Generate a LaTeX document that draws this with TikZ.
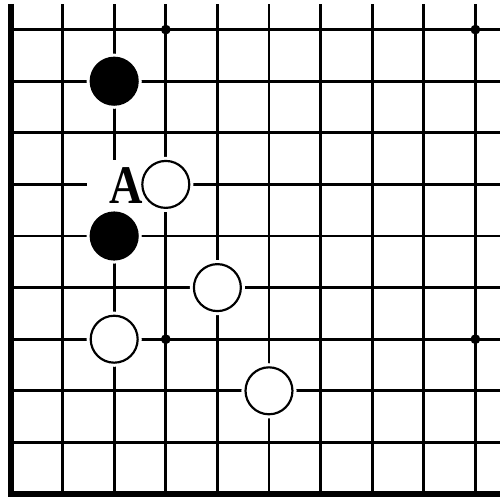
\documentclass[tikz,border=0pt]{standalone}
\usepackage{fontspec}
\setmainfont{Liberation Serif}
\usepackage{tikz}
\usetikzlibrary{
    positioning
}
\tikzstyle{gridline} = [
    line width=1.5pt,
    draw=black
]
\tikzstyle{edge} = [
    line width=3pt,
    draw=black
]
\tikzstyle{stone} = [
    circle,
    minimum size=0.91cm,
    inner sep=0pt,
    line width=1.2pt,
    preaction={draw=white, line width=4.5pt}
]
\tikzstyle{blackstone} = [
    stone,
    draw=black,
    fill=black
]
\tikzstyle{whitestone} = [
    stone,
    draw=black,
    fill=white
]
\tikzstyle{hoshi} = [
    circle,
    fill=black,
    minimum size=0.19cm,
    inner sep=0pt
]
\tikzstyle{marker} = [
    rectangle,
    fill=white,
    minimum width=1.5cm,
    minimum height=1.02cm,
    inner sep=0pt,
    font=\bfseries\fontsize{30}{30}\selectfont
]

\begin{document}
\begin{tikzpicture}
        \useasboundingbox (-0.213,-0.058) rectangle (9.477,9.574);

        % Grid
        \foreach \i in {1,...,9} {
            \draw[gridline] (\i,0) -- (\i,9.5);
            \draw[gridline] (0,\i) -- (9.48,\i);
        }
        \draw[edge] (0,9.5) -- (0,0) -- (9.48,0);

        % Star points
        \foreach \x/\y [count=\k] in {3/3, 9/3, 3/9, 9/9}
            \node[hoshi] (star\k) at (\x,\y) {};

        % Stones
        \node[blackstone] (b1) at (2,8) {};
        \node[marker] (markA) at (2.23,5.97) {\scalebox{0.85}[1]{A}};
        \node[whitestone] (w1) at (3,6) {};
        \node[blackstone] (b2) at (2,5) {};
        \node[whitestone] (w2) at (4,4) {};
        \node[whitestone] (w3) at (2,3) {};
        \node[whitestone] (w4) at (5,2) {};
    \end{tikzpicture}
\end{document}
